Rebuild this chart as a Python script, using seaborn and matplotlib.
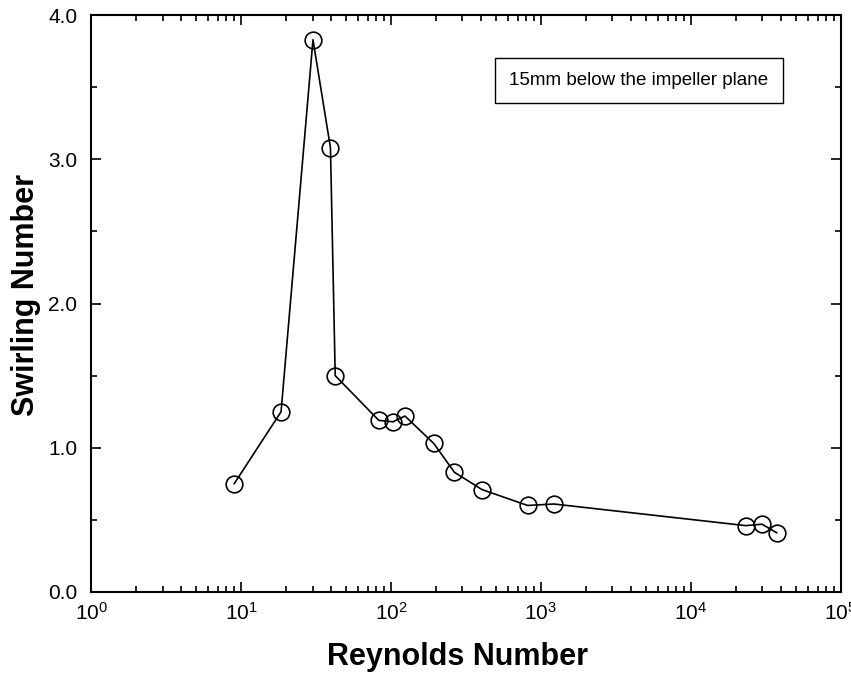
import matplotlib
matplotlib.use("Agg")
import matplotlib.pyplot as plt
import matplotlib.ticker as mticker
import seaborn as sns
import numpy as np
import pandas as pd

reynolds = [9.0, 18.5, 30.2, 39.5, 42.5, 83, 103, 124, 193, 265, 405, 815, 1220, 23300, 29800, 37500]
swirl = [0.75, 1.25, 3.83, 3.08, 1.50, 1.19, 1.18, 1.22, 1.03, 0.83, 0.71, 0.60, 0.61, 0.46, 0.47, 0.41]
annotation = "15mm below the impeller plane"
x_label = "Reynolds Number"
y_label = "Swirling Number"

df = pd.DataFrame({"Re": reynolds, "S": swirl})

sns.set_style("ticks")
plt.rcParams['font.family'] = ['Liberation Sans', 'DejaVu Sans']
plt.rcParams['mathtext.fontset'] = 'custom'
plt.rcParams['mathtext.rm'] = 'Liberation Sans'
plt.rcParams['mathtext.it'] = 'Liberation Sans'
plt.rcParams['mathtext.bf'] = 'Liberation Sans:bold'
plt.rcParams['text.color'] = 'black'
plt.rcParams['axes.labelcolor'] = 'black'
plt.rcParams['xtick.color'] = 'black'
plt.rcParams['ytick.color'] = 'black'

fig = plt.figure(figsize=(8.51, 6.77), dpi=100)
ax = fig.add_axes([0.107, 0.1256, 0.881, 0.852])

sns.lineplot(data=df, x="Re", y="S", ax=ax, sort=False, color="black", lw=1.2,
             marker="o", markersize=12, markerfacecolor="none",
             markeredgecolor="black", markeredgewidth=1.2)

ax.set_xscale("log")
ax.set_xlim(1, 1e5)
ax.set_ylim(0, 4)
ax.xaxis.set_major_locator(mticker.LogLocator(base=10, numticks=10))
ax.xaxis.set_minor_locator(mticker.LogLocator(base=10, subs=np.arange(2, 10), numticks=20))
ax.xaxis.set_major_formatter(mticker.FuncFormatter(lambda v, p: r"$10^{%d}$" % round(np.log10(v))))
ax.xaxis.set_minor_formatter(mticker.NullFormatter())
ax.yaxis.set_major_locator(mticker.MultipleLocator(1.0))
ax.yaxis.set_minor_locator(mticker.MultipleLocator(0.5))
ax.yaxis.set_major_formatter(mticker.FormatStrFormatter("%.1f"))

ax.tick_params(which="both", direction="in", top=True, right=True, colors="black",
               labelcolor="black", labelsize=15, width=1.2)
ax.tick_params(which="major", length=7)
ax.tick_params(axis="y", which="major", pad=10)
ax.tick_params(axis="x", which="major", pad=7)
ax.tick_params(which="minor", length=4)
for s in ax.spines.values():
    s.set_linewidth(1.5)
    s.set_color("black")

ax.set_xlabel(x_label, fontsize=22, fontweight="bold", va="center", color="black")
ax.set_ylabel(y_label, fontsize=22, fontweight="bold", va="center", color="black")
ax.xaxis.set_label_coords(0.489, -0.113)
ax.yaxis.set_label_coords(-0.087, 0.515)

ax.text(0.558, 0.887, annotation, transform=ax.transAxes, fontsize=13.5,
        va="center", ha="left", color="black",
        bbox=dict(boxstyle="square,pad=0.75", fc="white", ec="black", lw=1.0))

fig.savefig("out.png", dpi=100)
